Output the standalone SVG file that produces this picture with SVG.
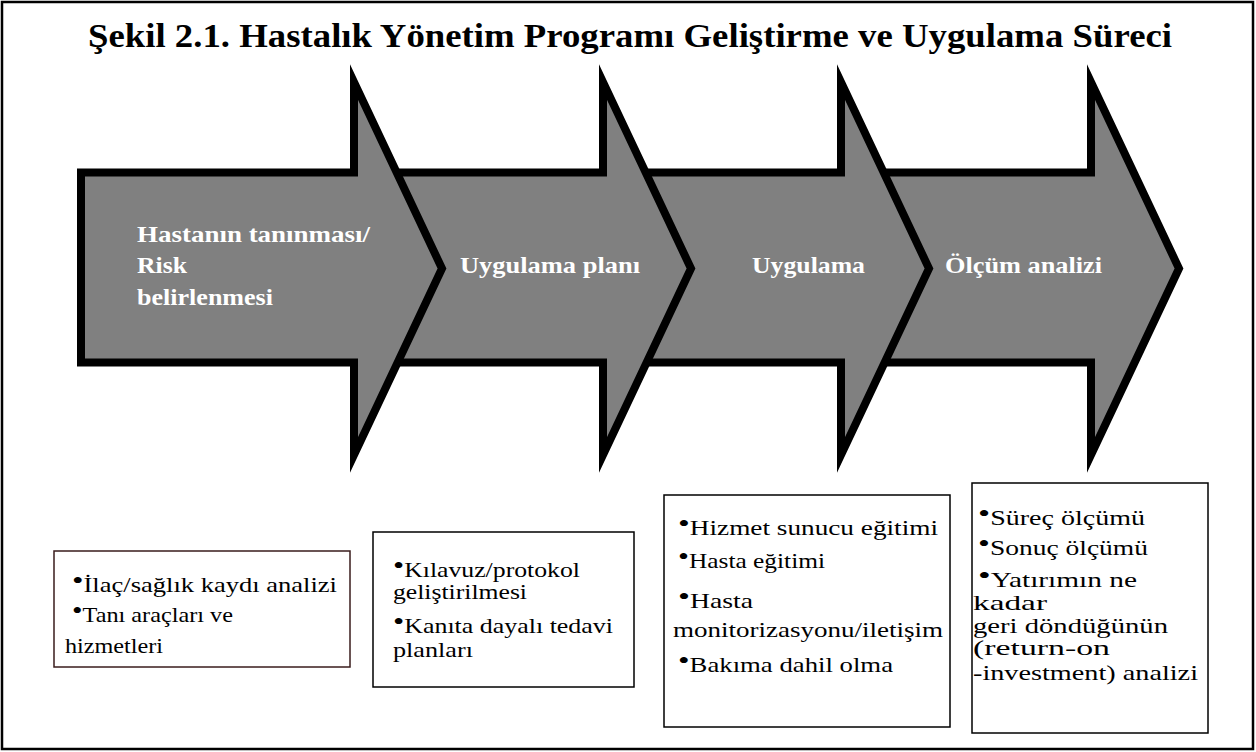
<svg xmlns="http://www.w3.org/2000/svg" width="1256" height="752" viewBox="0 0 1256 752">
<style>
.frame{fill:#fff;stroke:#000;stroke-width:2.5}
.arrow{fill:#808080;stroke:#000;stroke-width:8;stroke-linejoin:miter;stroke-miterlimit:10}
.lbl{font-family:"Liberation Serif","Times New Roman",serif;font-weight:bold;font-size:24px;fill:#fff}
.title{font-family:"Liberation Serif","Times New Roman",serif;font-weight:bold;font-size:33px;fill:#000}
.box{fill:#fff;stroke:#000;stroke-width:1.5}
.bt{font-family:"Liberation Serif","Times New Roman",serif;font-size:21px;fill:#000}
.b{font-size:26px}
</style>
<rect class="frame" x="2" y="2" width="1251" height="747"/>
<text class="title" x="88" y="47" textLength="1084" lengthAdjust="spacingAndGlyphs">Şekil 2.1. Hastalık Yönetim Programı Geliştirme ve Uygulama Süreci</text>
<g id="connectors"></g>
<g id="arrow4">
<path class="arrow" d="M862,172.5 H1091 V82 L1179,268.5 L1091,455 V362.5 H862 Z"/>
<text class="lbl" x="945" y="273" textLength="157" lengthAdjust="spacingAndGlyphs">Ölçüm analizi</text>
</g>
<g id="arrow3">
<path class="arrow" d="M623,172.5 H841 V82 L929,268.5 L841,455 V362.5 H623 Z"/>
<text class="lbl" x="752" y="273" textLength="113" lengthAdjust="spacingAndGlyphs">Uygulama</text>
</g>
<g id="arrow2">
<path class="arrow" d="M374,172.5 H603 V82 L691,268.5 L603,455 V362.5 H374 Z"/>
<text class="lbl" x="460" y="273" textLength="180" lengthAdjust="spacingAndGlyphs">Uygulama planı</text>
</g>
<g id="arrow1">
<path class="arrow" d="M81,172.5 H354 V82 L442,268.5 L354,455 V362.5 H81 Z"/>
<text class="lbl" x="137" y="242" textLength="233" lengthAdjust="spacingAndGlyphs">Hastanın tanınması/</text>
<text class="lbl" x="137" y="273" textLength="50" lengthAdjust="spacingAndGlyphs">Risk</text>
<text class="lbl" x="137" y="305" textLength="136" lengthAdjust="spacingAndGlyphs">belirlenmesi</text>
</g>
<g id="box1">
<rect class="box" x="54" y="551" width="296" height="116" style="stroke:#3a1c1c"/>
<text class="bt" x="72" y="592" textLength="265" lengthAdjust="spacingAndGlyphs"><tspan class="b" dy="-3">•</tspan><tspan dy="3">İlaç/sağlık kaydı analizi</tspan></text>
<text class="bt" x="72" y="622" textLength="161" lengthAdjust="spacingAndGlyphs"><tspan class="b" dy="-3">•</tspan><tspan dy="3">Tanı araçları ve</tspan></text>
<text class="bt" x="65" y="653" textLength="98" lengthAdjust="spacingAndGlyphs">hizmetleri</text>
</g>
<g id="box2">
<rect class="box" x="373" y="532" width="261" height="155"/>
<text class="bt" x="393" y="577" textLength="187" lengthAdjust="spacingAndGlyphs"><tspan class="b" dy="-3">•</tspan><tspan dy="3">Kılavuz/protokol</tspan></text>
<text class="bt" x="393" y="599" textLength="134" lengthAdjust="spacingAndGlyphs">geliştirilmesi</text>
<text class="bt" x="393" y="633" textLength="220" lengthAdjust="spacingAndGlyphs"><tspan class="b" dy="-3">•</tspan><tspan dy="3">Kanıta dayalı tedavi</tspan></text>
<text class="bt" x="393" y="657" textLength="80" lengthAdjust="spacingAndGlyphs">planları</text>
</g>
<g id="box3">
<rect class="box" x="664" y="495" width="286" height="232"/>
<text class="bt" x="678" y="535" textLength="260" lengthAdjust="spacingAndGlyphs"><tspan class="b" dy="-3">•</tspan><tspan dy="3">Hizmet sunucu eğitimi</tspan></text>
<text class="bt" x="678" y="568" textLength="147" lengthAdjust="spacingAndGlyphs"><tspan class="b" dy="-3">•</tspan><tspan dy="3">Hasta eğitimi</tspan></text>
<text class="bt" x="678" y="608" textLength="75" lengthAdjust="spacingAndGlyphs"><tspan class="b" dy="-3">•</tspan><tspan dy="3">Hasta</tspan></text>
<text class="bt" x="673" y="637" textLength="270" lengthAdjust="spacingAndGlyphs">monitorizasyonu/iletişim</text>
<text class="bt" x="678" y="672" textLength="215" lengthAdjust="spacingAndGlyphs"><tspan class="b" dy="-3">•</tspan><tspan dy="3">Bakıma dahil olma</tspan></text>
</g>
<g id="box4">
<rect class="box" x="972" y="483" width="236" height="250"/>
<text class="bt" x="978" y="525" textLength="167" lengthAdjust="spacingAndGlyphs"><tspan class="b" dy="-3">•</tspan><tspan dy="3">Süreç ölçümü</tspan></text>
<text class="bt" x="978" y="555" textLength="170" lengthAdjust="spacingAndGlyphs"><tspan class="b" dy="-3">•</tspan><tspan dy="3">Sonuç ölçümü</tspan></text>
<text class="bt" x="978" y="587" textLength="159" lengthAdjust="spacingAndGlyphs"><tspan class="b" dy="-3">•</tspan><tspan dy="3">Yatırımın ne</tspan></text>
<text class="bt" x="973" y="610" textLength="74" lengthAdjust="spacingAndGlyphs">kadar</text>
<text class="bt" x="973" y="633" textLength="195" lengthAdjust="spacingAndGlyphs">geri döndüğünün</text>
<text class="bt" x="973" y="655" textLength="137" lengthAdjust="spacingAndGlyphs">(return-on</text>
<text class="bt" x="973" y="680" textLength="225" lengthAdjust="spacingAndGlyphs">-investment) analizi</text>
</g>
</svg>
